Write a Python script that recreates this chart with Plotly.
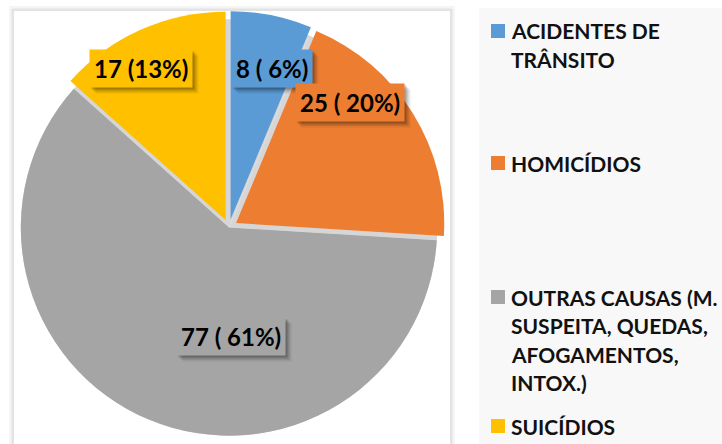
import plotly.graph_objects as go

# dados do gráfico
categorias = ["ACIDENTES DE TRÂNSITO", "HOMICÍDIOS",
              "OUTRAS CAUSAS (M. SUSPEITA, QUEDAS, AFOGAMENTOS, INTOX.)", "SUICÍDIOS"]
legenda_linhas = [["ACIDENTES DE", "TRÂNSITO"], ["HOMICÍDIOS"],
                  ["OUTRAS CAUSAS (M.", "SUSPEITA, QUEDAS,", "AFOGAMENTOS,", "INTOX.)"],
                  ["SUICÍDIOS"]]
valores = [8, 25, 77, 17]
rotulos = ["8 ( 6%)", "25 ( 20%)", "77 ( 61%)", "17 (13%)"]
cores = ["#5B9BD5", "#ED7D31", "#A5A5A5", "#FFC000"]

W, H = 722, 444
FONTE = "Lato"


def px(x):
    return x / W


def py(y):
    return 1 - y / H


fig = go.Figure()

# pizza de fundo (cinza claro) para dar o efeito de sombra entre as fatias
fig.add_trace(go.Pie(
    values=valores, labels=categorias, sort=False, direction="clockwise", rotation=0,
    marker=dict(colors=["#d6d6d6"] * 4, line=dict(width=0)),
    textinfo="none", hoverinfo="skip", showlegend=False,
    domain=dict(x=[px(20.8), px(437.2)], y=[py(435.7), py(19.3)]),
))

fig.add_trace(go.Pie(
    values=valores, labels=categorias, sort=False, direction="clockwise", rotation=0,
    marker=dict(colors=cores, line=dict(width=0)),
    pull=[0.04, 0.04, 0, 0.04],
    textinfo="none", showlegend=False,
    domain=dict(x=[px(12.5), px(445.5)], y=[py(444), py(11)]),
))

shapes = []
# painel branco com sombra
shapes.append(dict(type="rect", xref="paper", yref="paper", x0=px(9), x1=px(455), y0=py(450), y1=py(6),
                   fillcolor="rgba(0,0,0,0.04)", line=dict(width=0), layer="below"))
shapes.append(dict(type="rect", xref="paper", yref="paper", x0=px(11.5), x1=px(452.5), y0=py(450), y1=py(8.5),
                   fillcolor="rgba(0,0,0,0.07)", line=dict(width=0), layer="below"))
shapes.append(dict(type="rect", xref="paper", yref="paper", x0=px(14), x1=px(450), y0=py(450), y1=py(11),
                   fillcolor="white", line=dict(width=0), layer="below"))
# painel da legenda
shapes.append(dict(type="rect", xref="paper", yref="paper", x0=px(479), x1=px(730), y0=py(450), y1=py(8),
                   fillcolor="#f8f8f8", line=dict(width=0), layer="below"))

annotations = []

# rótulos das fatias (caixa com sombra)
pos_rotulos = [(272, 69), (350, 103), (231, 336), (141, 69)]
for txt, cor, (x, y) in zip(rotulos, cores, pos_rotulos):
    base = dict(x=px(x), y=py(y), xref="paper", yref="paper", text=txt, showarrow=False,
                xanchor="center", yanchor="middle", borderpad=4)
    for desloc, alfa in [(6, 0.08), (4, 0.14), (2, 0.2)]:
        annotations.append(dict(base, font=dict(family=FONTE, size=24, color="rgba(0,0,0,0)", weight="bold"),
                                bgcolor=f"rgba(0,0,0,{alfa})", xshift=desloc, yshift=-desloc))
    annotations.append(dict(base, font=dict(family=FONTE, size=24, color="black", weight="bold"),
                            bgcolor=cor))

# legenda manual
leg_y = [31, 163, 297, 426]
for linhas, cor, y0 in zip(legenda_linhas, cores, leg_y):
    shapes.append(dict(type="rect", xref="paper", yref="paper", x0=px(491), x1=px(505),
                       y0=py(y0 + 7), y1=py(y0 - 7), fillcolor=cor, line=dict(width=0)))
    for i, linha in enumerate(linhas):
        annotations.append(dict(x=px(509), y=py(y0 + i * 28.5), xref="paper", yref="paper",
                                text=linha, showarrow=False, xanchor="left", yanchor="middle",
                                font=dict(family=FONTE, size=21, color="#111111", weight="bold")))

fig.update_layout(
    width=W, height=H,
    margin=dict(l=0, r=0, t=0, b=0),
    paper_bgcolor="white",
    plot_bgcolor="white",
    shapes=shapes,
    annotations=annotations,
    showlegend=False,
)

fig.write_html("out.html", config={"displayModeBar": False},
               post_script="document.body.style.margin='0';")
